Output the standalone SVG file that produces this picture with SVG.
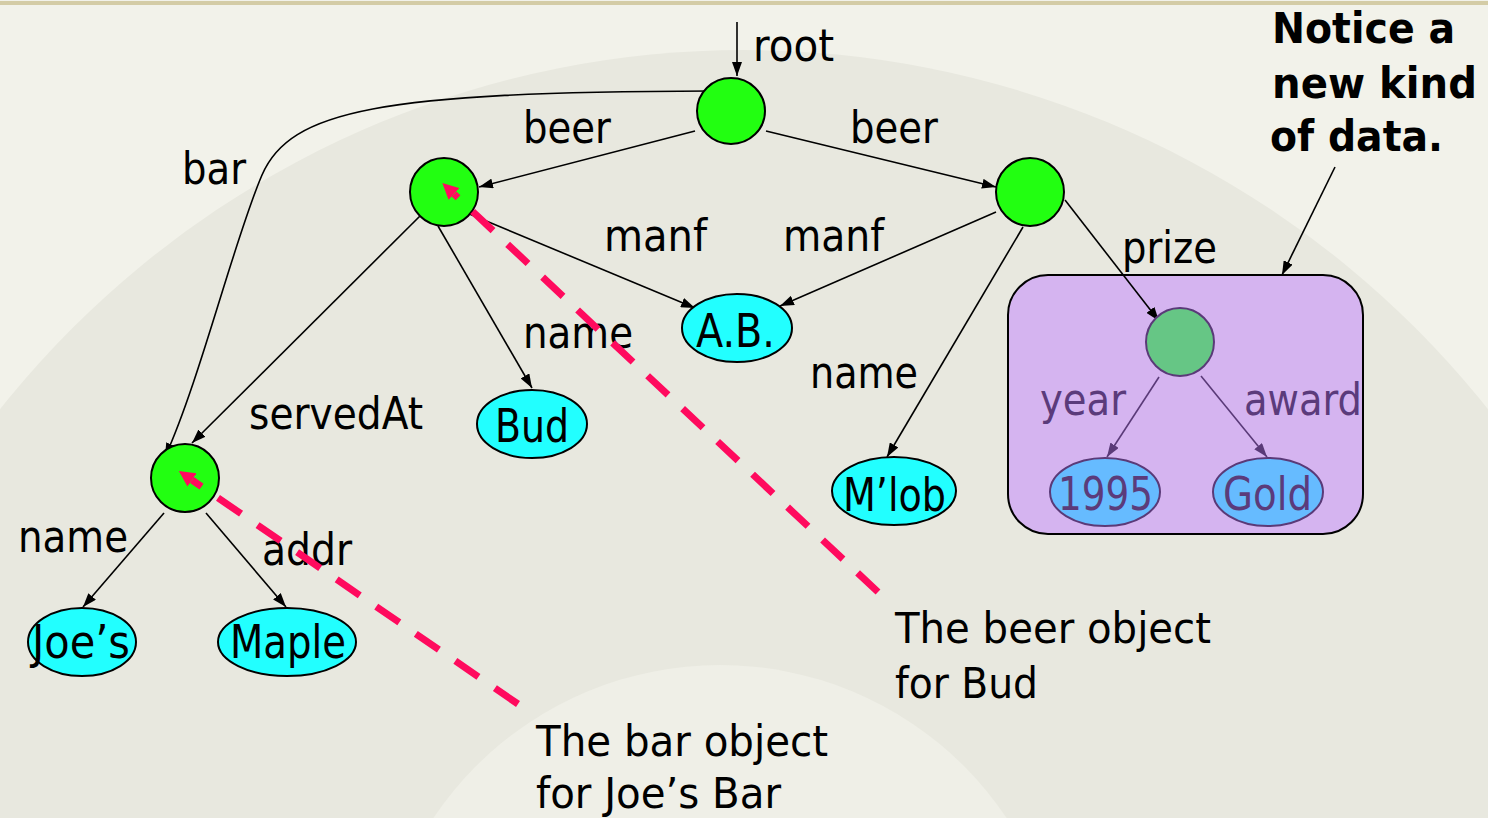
<svg xmlns="http://www.w3.org/2000/svg" width="1488" height="818" viewBox="0 0 1488 818">
<style>
.t{font-family:"DejaVu Sans Condensed","DejaVu Sans",sans-serif;font-size:44px;fill:#000}
.n{font-size:46px}
.c{font-size:42px}
.b{font-family:"DejaVu Sans","Liberation Sans",sans-serif;font-weight:bold;font-size:42px;fill:#000}
.p{fill:#5b3b7b}
.e{fill:none;stroke:#000;stroke-width:1.6}
.ep{fill:none;stroke:#5a3a78;stroke-width:1.6}
.obj{fill:#22ff11;stroke:#000;stroke-width:2}
.val{fill:#22ffff;stroke:#000;stroke-width:2}
.dash{fill:none;stroke:#ff0a5e;stroke-width:7;stroke-dasharray:28 20}
</style>
<defs>
<marker id="ah" viewBox="0 0 14 10" refX="14" refY="5" markerWidth="14" markerHeight="10" markerUnits="userSpaceOnUse" orient="auto"><path d="M0,0 L14,5 L0,10 z" fill="#000"/></marker>
<marker id="ahp" viewBox="0 0 14 10" refX="14" refY="5" markerWidth="14" markerHeight="10" markerUnits="userSpaceOnUse" orient="auto"><path d="M0,0 L14,5 L0,10 z" fill="#5a3a78"/></marker>
<marker id="ahr" viewBox="0 0 16 16" refX="0" refY="8" markerWidth="16" markerHeight="16" markerUnits="userSpaceOnUse" orient="auto"><path d="M0,0 L16,8 L0,16 z" fill="#ff0a5e"/></marker>
</defs>
<g id="background">
<rect x="0" y="0" width="1488" height="818" fill="#f2f2ea"/>
<circle cx="744" cy="1000" r="950" fill="#e8e8df"/>
<circle cx="720" cy="1010" r="345" fill="#efefe7"/>
<line x1="0" y1="3" x2="1488" y2="3" stroke="#d4cca6" stroke-width="4"/>
</g>
<g id="prize-box">
<rect x="1008" y="275" width="355" height="259" rx="40" fill="#d5b4f0" stroke="#000" stroke-width="2"/>
</g>
<g id="connectors">
<path class="e" d="M737,22 L737,76" marker-end="url(#ah)"/>
<path class="e" d="M695,131 L479,187" marker-end="url(#ah)"/>
<path class="e" d="M766,131 L996,187" marker-end="url(#ah)"/>
<path class="e" d="M710,91 C380,92 290,110 262,175 S200,380 165,457" marker-end="url(#ah)"/>
<path class="e" d="M467,213 L695,308" marker-end="url(#ah)"/>
<path class="e" d="M996,212 L780,306" marker-end="url(#ah)"/>
<path class="e" d="M438,226 L532,388" marker-end="url(#ah)"/>
<path class="e" d="M423,213 L192,443" marker-end="url(#ah)"/>
<path class="e" d="M1023,227 L887,457" marker-end="url(#ah)"/>
<path class="e" d="M1065,200 L1159,321" marker-end="url(#ah)"/>
<path class="ep" d="M1159,377 L1107,457" marker-end="url(#ahp)"/>
<path class="ep" d="M1201,376 L1267,457" marker-end="url(#ahp)"/>
<path class="e" d="M164,513 L83,607" marker-end="url(#ah)"/>
<path class="e" d="M206,513 L286,607" marker-end="url(#ah)"/>
<path class="e" d="M1335,167 L1282,275" marker-end="url(#ah)"/>
<text class="t" x="753" y="61" textLength="81" lengthAdjust="spacingAndGlyphs">root</text>
<text class="t" x="523" y="143" textLength="88" lengthAdjust="spacingAndGlyphs">beer</text>
<text class="t" x="850" y="143" textLength="88" lengthAdjust="spacingAndGlyphs">beer</text>
<text class="t" x="182" y="184" textLength="64" lengthAdjust="spacingAndGlyphs">bar</text>
<text class="t" x="604" y="251" textLength="103" lengthAdjust="spacingAndGlyphs">manf</text>
<text class="t" x="783" y="251" textLength="101" lengthAdjust="spacingAndGlyphs">manf</text>
<text class="t" x="1122" y="263" textLength="95" lengthAdjust="spacingAndGlyphs">prize</text>
<text class="t" x="523" y="348" textLength="110" lengthAdjust="spacingAndGlyphs">name</text>
<text class="t" x="810" y="388" textLength="108" lengthAdjust="spacingAndGlyphs">name</text>
<text class="t" x="249" y="429" textLength="174" lengthAdjust="spacingAndGlyphs">servedAt</text>
<text class="t p" x="1040" y="415" textLength="86" lengthAdjust="spacingAndGlyphs">year</text>
<text class="t p" x="1244" y="415" textLength="118" lengthAdjust="spacingAndGlyphs">award</text>
<text class="t" x="18" y="552" textLength="110" lengthAdjust="spacingAndGlyphs">name</text>
<text class="t" x="262" y="565" textLength="90" lengthAdjust="spacingAndGlyphs">addr</text>
</g>
<g id="root"><ellipse class="obj" cx="731" cy="111" rx="34" ry="33"/></g>
<g id="beer-bud"><circle class="obj" cx="444" cy="192" r="34"/></g>
<g id="beer-mlob"><circle class="obj" cx="1030" cy="192" r="34"/></g>
<g id="bar-joes"><circle class="obj" cx="185" cy="478" r="34"/></g>
<g id="prize"><circle cx="1180" cy="342" r="34" fill="#66c685" stroke="#5a3a78" stroke-width="2"/></g>
<g id="ab"><ellipse class="val" cx="737" cy="328" rx="55" ry="34"/><text class="t n" x="696" y="347" textLength="79" lengthAdjust="spacingAndGlyphs">A.B.</text></g>
<g id="bud"><ellipse class="val" cx="532" cy="424" rx="55" ry="34"/><text class="t n" x="495" y="442" textLength="74" lengthAdjust="spacingAndGlyphs">Bud</text></g>
<g id="mlob"><ellipse class="val" cx="894" cy="491" rx="62" ry="34"/><text class="t n" x="843" y="511" textLength="103" lengthAdjust="spacingAndGlyphs">M’lob</text></g>
<g id="joes"><ellipse class="val" cx="82" cy="642" rx="54" ry="34"/><text class="t n" x="32" y="658" textLength="98" lengthAdjust="spacingAndGlyphs">Joe’s</text></g>
<g id="maple"><ellipse class="val" cx="287" cy="642" rx="69" ry="34"/><text class="t n" x="230" y="658" textLength="116" lengthAdjust="spacingAndGlyphs">Maple</text></g>
<g id="y1995"><ellipse cx="1105" cy="492" rx="55" ry="34" fill="#66bbff" stroke="#5a3a78" stroke-width="2"/><text class="t n p" x="1058" y="510" textLength="95" lengthAdjust="spacingAndGlyphs">1995</text></g>
<g id="gold"><ellipse cx="1268" cy="492" rx="55" ry="34" fill="#66bbff" stroke="#5a3a78" stroke-width="2"/><text class="t n p" x="1223" y="510" textLength="89" lengthAdjust="spacingAndGlyphs">Gold</text></g>
<g id="pointers">
<path class="dash" d="M878,592 L454,194" marker-end="url(#ahr)"/>
<path class="dash" d="M518,704 L192,480" marker-end="url(#ahr)"/>
</g>
<g id="notes">
<text class="t c" x="895" y="643" textLength="316" lengthAdjust="spacingAndGlyphs">The beer object</text>
<text class="t c" x="895" y="698" textLength="143" lengthAdjust="spacingAndGlyphs">for Bud</text>
<text class="t c" x="536" y="756" textLength="292" lengthAdjust="spacingAndGlyphs">The bar object</text>
<text class="t c" x="536" y="808" textLength="245" lengthAdjust="spacingAndGlyphs">for Joe’s Bar</text>
<text class="b" x="1272" y="43" textLength="183" lengthAdjust="spacingAndGlyphs">Notice a</text>
<text class="b" x="1272" y="98" textLength="205" lengthAdjust="spacingAndGlyphs">new kind</text>
<text class="b" x="1270" y="151" textLength="173" lengthAdjust="spacingAndGlyphs">of data.</text>
</g>
</svg>
